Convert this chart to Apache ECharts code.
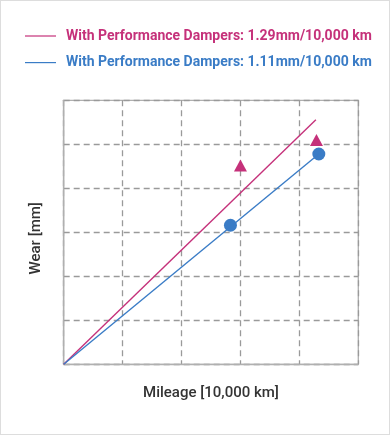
<!DOCTYPE html>
<html><head><meta charset="utf-8">
<script src="https://cdn.jsdelivr.net/npm/echarts@6/dist/echarts.min.js"></script>
<style>html,body{margin:0;padding:0;background:#fff}#c{width:388px;height:433px;border:1px solid #ddd;}</style>
</head><body><div id="c"></div>
<script>
const seriesNames = ['With Performance Dampers: 1.29mm/10,000 km', 'With Performance Dampers: 1.11mm/10,000 km'];
const pinkLine = [[0, 0], [4.28, 5.56]];
const blueLine = [[0, 0], [4.33, 4.78]];
const pinkPoints = [[3.0, 4.52], [4.29, 5.10]];
const bluePoints = [[2.83, 3.16], [4.33, 4.78]];
const xName = 'Mileage [10,000 km]';
const yName = 'Wear [mm]';
const pink = '#c5317a', blue = '#3a7cc6';

const chart = echarts.init(document.getElementById('c'), null, {renderer: 'canvas'});
const dash = {show: true, lineStyle: {color: '#9a9a9a', type: [6, 4], width: 1.3}};
chart.setOption({
  animation: false,
  legend: {
    orient: 'vertical', left: 24, top: 28, padding: 0, itemWidth: 31, itemHeight: 1.2, itemGap: 12.6,
    icon: 'rect',
    textStyle: {fontFamily: 'Roboto', fontWeight: 'bold', fontSize: 14, padding: [0, 0, 0, 5]},
    data: [
      {name: seriesNames[0], textStyle: {color: pink}},
      {name: seriesNames[1], textStyle: {color: blue}}
    ]
  },
  grid: {left: 62.7, right: 30.7, top: 99.3, bottom: 69.7, show: true, borderColor: '#b0b0b0', borderWidth: 1.3},
  xAxis: {type: 'value', min: 0, max: 5, interval: 1, name: xName, nameLocation: 'middle', nameGap: 21,
    nameTextStyle: {fontFamily: 'Roboto', fontSize: 15, color: '#333', fontWeight: 500},
    axisLabel: {show: false}, axisTick: {show: false}, axisLine: {show: true, lineStyle: {color: '#b0b0b0', width: 1.3}}, splitLine: dash},
  yAxis: {type: 'value', min: 0, max: 6, interval: 1, name: yName, nameLocation: 'middle', nameGap: 20,
    nameTextStyle: {fontFamily: 'Roboto', fontSize: 15, color: '#333', fontWeight: 500, padding: [0, 12, 0, 0]},
    axisLabel: {show: false}, axisTick: {show: false}, axisLine: {show: true, lineStyle: {color: '#b0b0b0', width: 1.3}}, splitLine: dash},
  series: [
    {name: seriesNames[0], type: 'line', data: pinkLine, showSymbol: false, symbol: 'none', lineStyle: {color: pink, width: 1.4}, itemStyle: {color: pink}},
    {name: seriesNames[1], type: 'line', data: blueLine, showSymbol: false, symbol: 'none', lineStyle: {color: blue, width: 1.4}, itemStyle: {color: blue}},
    {name: 'pinkPts', type: 'scatter', data: pinkPoints, symbol: 'triangle', symbolSize: [13, 12], itemStyle: {color: pink, opacity: 1}},
    {name: 'bluePts', type: 'scatter', data: bluePoints, symbol: 'circle', symbolSize: 13, itemStyle: {color: blue, opacity: 1}}
  ]
});
</script></body></html>
